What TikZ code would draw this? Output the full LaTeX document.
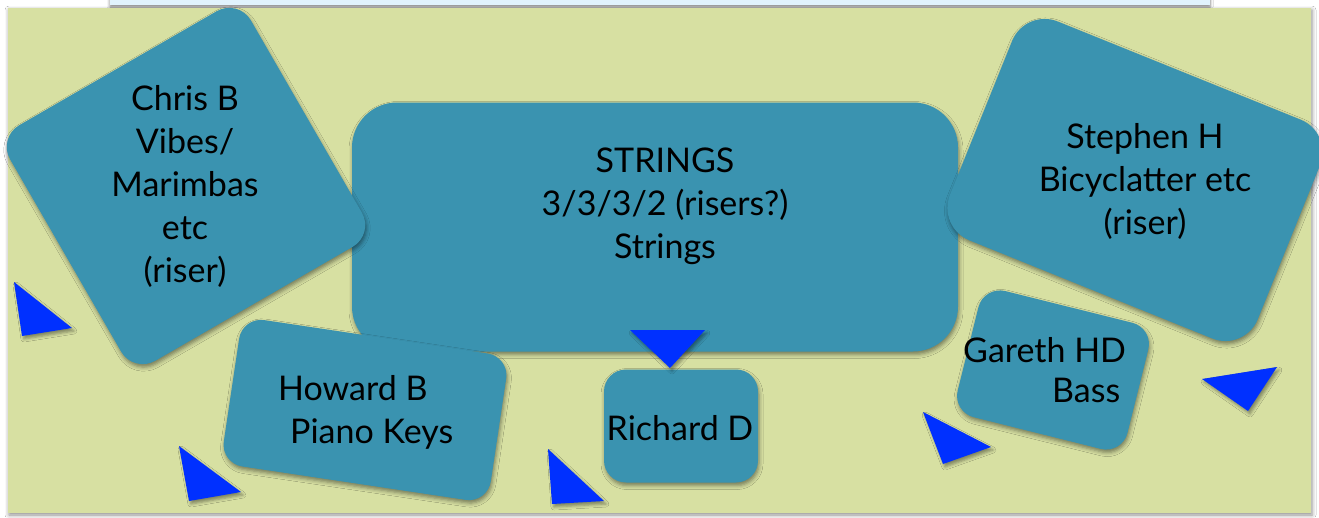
\documentclass[tikz,border=0pt]{standalone}
\usepackage{fontspec}
\setmainfont{Lato}
\usetikzlibrary{shadows.blur}
\definecolor{stagegreen}{RGB}{215,224,162}
\definecolor{seatblue}{RGB}{58,147,176}
\definecolor{cueblue}{RGB}{0,48,255}
\definecolor{bannerblue}{RGB}{225,243,253}
\begin{document}
\begin{tikzpicture}[x=1pt,y=-1pt,
    seat/.style={fill=seatblue, inner sep=0pt,
      blur shadow={shadow xshift=1pt, shadow yshift=-3pt, shadow blur radius=4pt, shadow opacity=45}},
    cue/.style={fill=cueblue,
      blur shadow={shadow xshift=2pt, shadow yshift=-3pt, shadow blur radius=3pt, shadow opacity=40}},
    who/.style={font=\fontsize{34}{43}\selectfont, inner sep=0pt}]
  \clip (0,0) rectangle (1319,517);
  \fill[white] (0,0) rectangle (1319,517);
  % stage and banner
  \fill[bannerblue, blur shadow={shadow xshift=0pt, shadow yshift=-2pt, shadow blur radius=3pt, shadow opacity=50}]
    (110,-10) rectangle (1210,5);
  \fill[stagegreen, blur shadow={shadow xshift=1pt, shadow yshift=-2pt, shadow blur radius=4pt, shadow opacity=45}]
    (8,8) rectangle (1311,513);
  % players
  \node[seat, rounded corners=45pt, minimum width=606pt, minimum height=249pt] (strings) at (655,227) {};
  \node[seat, rounded corners=25pt, minimum width=278pt, minimum height=272pt, rotate=30] (chris) at (186,186) {};
  \node[seat, rounded corners=35pt, minimum width=332pt, minimum height=236pt, rotate=-22] (stephen) at (1135,180) {};
  \node[seat, rounded corners=22pt, minimum width=270pt, minimum height=148pt, rotate=-8.5] (howard) at (365,410) {};
  \node[seat, rounded corners=22pt, minimum width=154pt, minimum height=113pt] (richard) at (681,426) {};
  \node[seat, rounded corners=22pt, minimum width=175pt, minimum height=130pt, rotate=-14] (gareth) at (1053,370) {};
  \draw
    (185,186) node[who, align=center] (christ){Chris B\\Vibes/\\Marimbas\\etc\\(riser)}
    (665,206) node[who, align=center] (stringst){STRINGS\\3/3/3/2 (risers?)\\Strings}
    (1145,181) node[who, align=center] (stephent){Stephen H\\Bicyclatter etc\\(riser)}
    (278,412) node[who, align=left, anchor=west] (howardt){Howard B\\\hspace*{12pt}Piano Keys}
    (680,428) node[who] (richardt){Richard D}
    (963,370) node[who, align=left, anchor=west, font=\fontsize{34}{40}\selectfont] (garetht){Gareth HD\\\hspace*{89pt}Bass};
  % cues
  \begin{scope}
    \fill[cue] (14,282) -- (72,328) -- (22,336) -- cycle;
    \fill[cue] (179,446) -- (241,492) -- (189,501) -- cycle;
    \fill[cue] (548,449) -- (604,501) -- (552,504) -- cycle;
    \fill[cue] (630,330) -- (705,330) -- (670,368) -- cycle;
    \fill[cue] (923,412) -- (991,447) -- (943,464) -- cycle;
    \fill[cue] (1202,379) -- (1277,367) -- (1248,411) -- cycle;
  \end{scope}
\end{tikzpicture}
\end{document}
